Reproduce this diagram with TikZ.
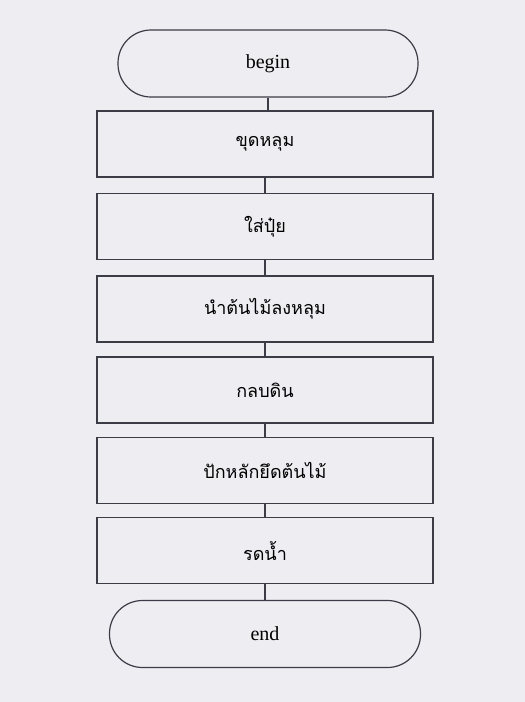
\documentclass[tikz,border=0pt]{standalone}
\usepackage{fontspec}
\setmainfont{Liberation Serif}
\newfontfamily\thaifont[Script=Thai]{Loma}
\usepackage{xcolor}
\usepackage{tikz}
\usetikzlibrary{shapes,positioning,calc}

\definecolor{paper}{RGB}{238,237,242}
\definecolor{ink}{RGB}{60,60,70}

\begin{document}
\begin{tikzpicture}[x=1pt, y=-1pt,
    terminal/.style={draw=ink, line width=1.2pt, rounded corners=33pt, minimum width=300pt, minimum height=67pt, font=\fontsize{20}{23}\selectfont},
    stepbox/.style={draw=ink, line width=1.2pt, minimum width=336pt, minimum height=66pt, font=\fontsize{18}{21}\selectfont\thaifont},
    link/.style={draw=ink, line width=1.2pt}]
    \fill[paper] (0,0) rectangle (525,702);
    \useasboundingbox (0,0) rectangle (525,702);

    \node[terminal] (begin) at (268,63.5) {begin};
    \node[stepbox] (dig) at (265,144) {ขุดหลุม};
    \node[stepbox] (fert) at (265,226.5) {ใส่ปุ๋ย};
    \node[stepbox] (plant) at (265,309) {นำต้นไม้ลงหลุม};
    \node[stepbox] (soil) at (265,390) {กลบดิน};
    \node[stepbox] (stake) at (265,470.5) {ปักหลักยึดต้นไม้};
    \node[stepbox] (water) at (265,550.5) {รดน้ำ};
    \node[terminal, minimum width=311pt] (end) at (265,634) {end};

    \draw[link] (begin.south) -- (begin.south |- dig.north);
    \draw[link] (dig) -- (fert);
    \draw[link] (fert) -- (plant);
    \draw[link] (plant) -- (soil);
    \draw[link] (soil) -- (stake);
    \draw[link] (stake) -- (water);
    \draw[link] (water) -- (end);
\end{tikzpicture}
\end{document}
